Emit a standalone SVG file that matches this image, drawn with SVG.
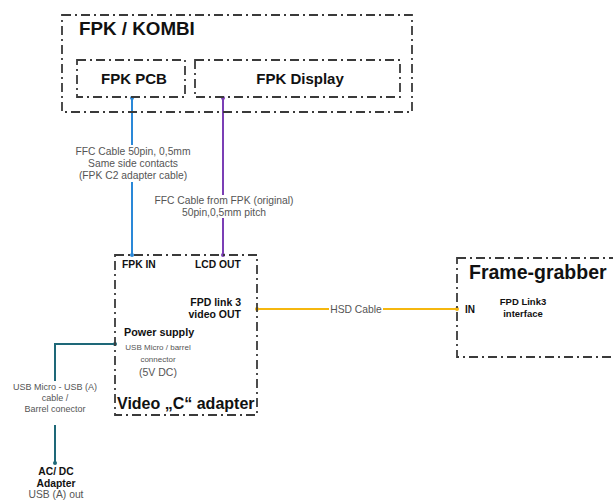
<svg xmlns="http://www.w3.org/2000/svg" width="613" height="502" viewBox="0 0 613 502">
<style>
.box{fill:none;stroke:#3a3a3a;stroke-width:1.8;stroke-dasharray:9 4 2 4}
.t{font-family:"Liberation Sans",Arial,sans-serif}
.b{font-weight:bold;fill:#111}
.g{fill:#555}
.bg{fill:#fff}
</style>
<rect width="613" height="502" fill="#fff"/>
<g id="connectors">
  <line x1="132" y1="97" x2="132" y2="255" stroke="#2a88d8" stroke-width="2"/>
  <circle cx="132" cy="98" r="2" fill="#2a88d8"/>
  <circle cx="132" cy="255" r="2" fill="#2a88d8"/>
  <line x1="223" y1="97" x2="223" y2="255" stroke="#7b3fb5" stroke-width="2"/>
  <circle cx="223" cy="98" r="2" fill="#7b3fb5"/>
  <circle cx="223" cy="255" r="2" fill="#7b3fb5"/>
  <line x1="257" y1="309" x2="457" y2="309" stroke="#f5b70f" stroke-width="2"/>
  <circle cx="257" cy="309" r="2" fill="#f5b70f"/>
  <circle cx="457" cy="309" r="2" fill="#f5b70f"/>
  <polyline points="115,344 55,344 55,381" fill="none" stroke="#1e6878" stroke-width="2"/>
  <circle cx="115" cy="344" r="2" fill="#1e6878"/>
  <line x1="55" y1="425" x2="55" y2="463" stroke="#1e6878" stroke-width="2"/>
  <circle cx="55" cy="463" r="2" fill="#1e6878"/>
  <rect x="72" y="145" width="122" height="37" class="bg"/>
  <text class="t g" font-size="10.3" text-anchor="middle"><tspan x="133" y="155">FFC Cable 50pin, 0,5mm</tspan><tspan x="133" y="167">Same side contacts</tspan><tspan x="133" y="179">(FPK C2 adapter cable)</tspan></text>
  <rect x="152" y="195" width="144" height="23" class="bg"/>
  <text class="t g" font-size="10.3" text-anchor="middle"><tspan x="224" y="204">FFC Cable from FPK (original)</tspan><tspan x="224" y="216">50pin,0,5mm pitch</tspan></text>
  <rect x="329" y="303" width="54" height="12" class="bg"/>
  <text class="t g" font-size="10.3" text-anchor="middle" x="356" y="312.5">HSD Cable</text>
  <text class="t g" font-size="9" text-anchor="middle"><tspan x="55" y="390">USB Micro - USB (A)</tspan><tspan x="55" y="401">cable /</tspan><tspan x="55" y="412">Barrel conector</tspan></text>
</g>
<g id="fpk-kombi">
  <rect x="62" y="15" width="350" height="97" class="box"/>
  <text class="t b" font-size="18.8" x="79" y="35">FPK / KOMBI</text>
</g>
<g id="fpk-pcb">
  <rect x="77" y="60" width="108" height="37" class="box"/>
  <text class="t b" font-size="15" text-anchor="middle" x="134" y="83.5">FPK PCB</text>
</g>
<g id="fpk-display">
  <rect x="195" y="60" width="205" height="37" class="box"/>
  <text class="t b" font-size="15" text-anchor="middle" x="300" y="83.5">FPK Display</text>
</g>
<g id="video-adapter">
  <rect x="115" y="255" width="142" height="160" class="box"/>
  <text class="t b" font-size="10.3" x="122" y="268">FPK IN</text>
  <text class="t b" font-size="10.3" x="195" y="268">LCD OUT</text>
  <text class="t b" font-size="10.5" text-anchor="end"><tspan x="241" y="306">FPD link 3</tspan><tspan x="241" y="318">video OUT</tspan></text>
  <text class="t b" font-size="10.8" x="124" y="336">Power supply</text>
  <text class="t g" font-size="8" text-anchor="middle"><tspan x="158" y="350">USB Micro / barrel</tspan><tspan x="158" y="362">connector</tspan></text>
  <text class="t g" font-size="10.5" text-anchor="middle" x="158" y="376">(5V DC)</text>
  <text class="t b" font-size="16" x="117" y="409">Video „C“ adapter</text>
</g>
<g id="frame-grabber">
  <rect x="457" y="258" width="170" height="99" class="box"/>
  <text class="t b" font-size="19.5" x="469" y="279">Frame-grabber</text>
  <text class="t b" font-size="10" x="465" y="313">IN</text>
  <text class="t b" font-size="9.5" text-anchor="middle"><tspan x="523" y="305">FPD Link3</tspan><tspan x="523" y="317">interface</tspan></text>
</g>
<g id="acdc">
  <text class="t b" font-size="10.3" text-anchor="middle"><tspan x="56" y="475">AC/ DC</tspan><tspan x="56" y="487">Adapter</tspan></text>
  <text class="t g" font-size="10.3" text-anchor="middle" x="56" y="498">USB (A) out</text>
</g>
</svg>
